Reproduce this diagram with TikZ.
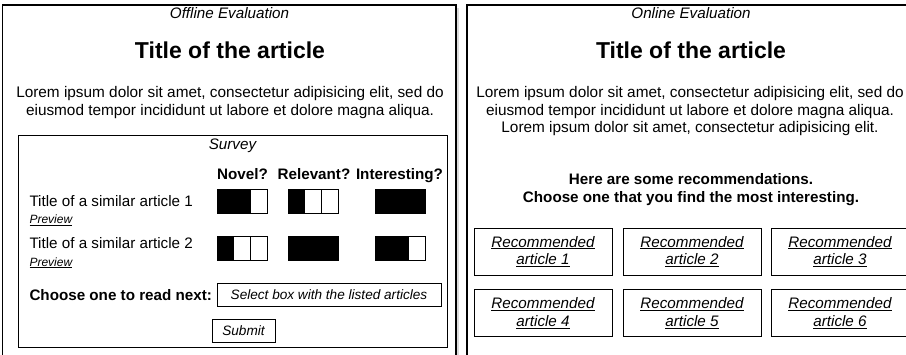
\documentclass[tikz,border=0pt]{standalone}
\usepackage{fontspec}
\setmainfont{Liberation Sans}
\newcommand\pxfont[1]{\fontsize{#1}{17.6}\selectfont}
\begin{document}
\begin{tikzpicture}[x=1pt,y=-1pt,
  panel/.style={draw=black,line width=1.2pt,fill=white},
  shadowbox/.style={fill=black!14,draw=none},
  box/.style={draw=black,line width=1pt},
  cellon/.style={draw=black,line width=0.9pt,fill=black},
  celloff/.style={draw=black,line width=0.9pt,fill=white},
  lbl/.style={inner sep=0pt,anchor=base,font=\pxfont{15.2}},
  lblit/.style={lbl,font=\pxfont{15.2}\itshape},
  lblbf/.style={lbl,font=\pxfont{15.2}\bfseries},
  prev/.style={inner sep=0pt,anchor=base west,font=\pxfont{12}\itshape},
  ttl/.style={inner sep=0pt,anchor=base,font=\pxfont{23}\bfseries},
  para/.style={inner sep=0pt,anchor=north,align=center,font=\pxfont{15.35}},
  recbox/.style={box,minimum width=138pt,minimum height=47pt,inner sep=0pt,align=center,font=\pxfont{15.2}\itshape},
]
\useasboundingbox (0,0) rectangle (906,354);
\clip (0,0) rectangle (906,354);

% panels with shadows
\fill[shadowbox] (4.7,7.5) rectangle (458.5,380);
\fill[shadowbox] (469,7.5) rectangle (920,380);
\draw[panel] (2.7,5) rectangle (456,375);
\draw[panel] (467,5) rectangle (917,375);

% ---------------- Offline panel ----------------
\node[lblit] (offlbl) at (229.5,18.3) {Offline Evaluation};
\node[ttl] (offttl) at (230,58.3) {Title of the article};
\node[para] (offpara) at (230,86.3) {Lorem ipsum dolor sit amet, consectetur adipisicing elit, sed do\\eiusmod tempor incididunt ut labore et dolore magna aliqua.};

\node[box,minimum width=429pt,minimum height=212pt,inner sep=0pt] (survey) at (232.5,241) {};
\node[lblit] (surveylbl) at (232.5,149.3) {Survey};
\node[lblbf] (novel) at (242.5,179.3) {Novel?};
\node[lblbf] (relevant) at (314,179.3) {Relevant?};
\node[lblbf] (interesting) at (399.5,179.3) {Interesting?};

\node[lbl,anchor=base west] (art1) at (29.3,206) {Title of a similar article 1};
\node[prev] (prev1) at (29.3,223.3) {\underline{Preview}};
\node[lbl,anchor=base west] (art2) at (29.3,248.3) {Title of a similar article 2};
\node[prev] (prev2) at (29.3,266) {\underline{Preview}};

% rating cells: row 1
\foreach \x/\s in {217/cellon,233.67/cellon,250.33/celloff,
                   288/cellon,304.67/celloff,321.33/celloff,
                   375/cellon,391.67/cellon,408.33/cellon}
  \draw[\s] (\x,189) rectangle ++(16.67,24);
% rating cells: row 2
\foreach \x/\s in {217/cellon,233.67/celloff,250.33/celloff,
                   288/cellon,304.67/cellon,321.33/cellon,
                   375/cellon,391.67/cellon,408.33/celloff}
  \draw[\s] (\x,236) rectangle ++(16.67,24);

\node[lblbf,anchor=base west] (choose) at (29.3,300) {Choose one to read next:};
\node[box,minimum width=224pt,minimum height=23pt,inner sep=0pt,font=\pxfont{13.6}\itshape] (select) at (329,294.5) {Select box with the listed articles};
\node[box,minimum width=63pt,minimum height=23pt,inner sep=0pt,font=\pxfont{13.6}\itshape] (submit) at (243.5,330.5) {Submit};

% ---------------- Online panel ----------------
\node[lblit] (onlbl) at (691,18.3) {Online Evaluation};
\node[ttl] (onttl) at (691,58.3) {Title of the article};
\node[para] (onpara) at (690,86.3) {Lorem ipsum dolor sit amet, consectetur adipisicing elit, sed do\\eiusmod tempor incididunt ut labore et dolore magna aliqua.\\Lorem ipsum dolor sit amet, consectetur adipisicing elit.};
\node[para,font=\pxfont{15.2}\bfseries] (here) at (691,173) {Here are some recommendations.\\[1pt]Choose one that you find the most interesting.};

\node[recbox] (r1) at (543,251.5) {\underline{Recommended}\\\underline{article 1}};
\node[recbox] (r2) at (692,251.5) {\underline{Recommended}\\\underline{article 2}};
\node[recbox] (r3) at (840,251.5) {\underline{Recommended}\\\underline{article 3}};
\node[recbox] (r4) at (543,313) {\underline{Recommended}\\\underline{article 4}};
\node[recbox] (r5) at (692,313) {\underline{Recommended}\\\underline{article 5}};
\node[recbox] (r6) at (840,313) {\underline{Recommended}\\\underline{article 6}};
\end{tikzpicture}
\end{document}
